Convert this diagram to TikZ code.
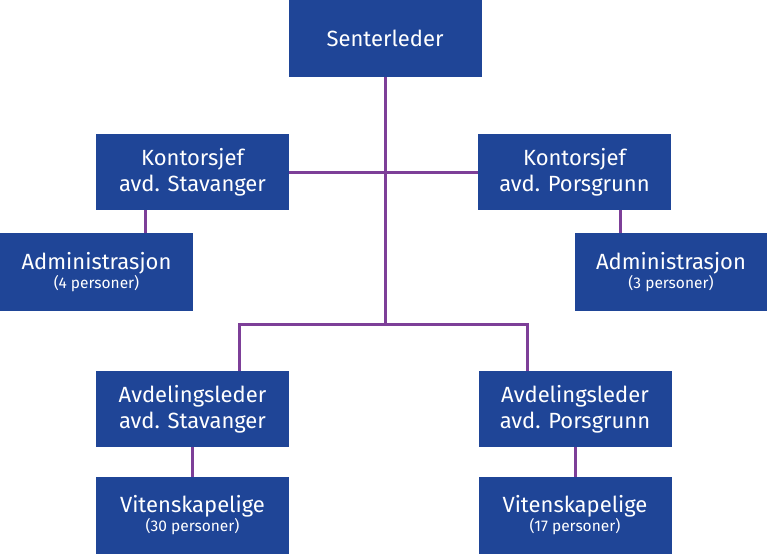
\documentclass[tikz,border=0pt]{standalone}
\usepackage{fontspec}
\setmainfont{Fira Sans}
\usepackage{tikz}

\definecolor{boxblue}{HTML}{1F4597}
\definecolor{linepurple}{HTML}{7D3F98}
\newcommand{\persfont}{\fontsize{15.5}{17}\selectfont}

\begin{document}
\begin{tikzpicture}[x=1pt,y=-1pt,
  box/.style={fill=boxblue, text=white, align=center, minimum width=193pt, minimum height=77pt,
    inner sep=0pt, outer sep=0pt, font=\fontsize{22}{26}\selectfont},
  link/.style={draw=linepurple, line width=3pt}]
\useasboundingbox (0,0) rectangle (767,554);

\node[box] (sl) at (385,38.5) {Senterleder};
\node[box, minimum height=76pt] (ks) at (192.5,172) {Kontorsjef\\avd. Stavanger};
\node[box, minimum height=76pt] (kp) at (574.5,172) {Kontorsjef\\avd. Porsgrunn};
\node[box, minimum height=78pt] (as) at (96.5,272) {Administrasjon\\[-7pt]{\persfont (4 personer)}};
\node[box, minimum height=78pt] (ap) at (671,272) {Administrasjon\\[-7pt]{\persfont (3 personer)}};
\node[box, minimum height=76pt] (als) at (192.5,409) {Avdelingsleder\\avd. Stavanger};
\node[box, minimum height=76pt] (alp) at (575,409) {Avdelingsleder\\avd. Porsgrunn};
\node[box] (vs) at (192.5,515.5) {Vitenskapelige\\[-7pt]{\persfont (30 personer)}};
\node[box] (vp) at (575,515.5) {Vitenskapelige\\[-7pt]{\persfont (17 personer)}};

\coordinate (j) at (385,324);
\coordinate (jl) at (239,324);
\coordinate (jr) at (527,324);
\coordinate (ksl) at (145,210);
\coordinate (kpl) at (620,210);

\draw[link] (sl.south) -- (j);
\draw[link] (ks.east) -- (kp.west);
\draw[link] (jl |- als.north) -- (jl) -- (jr) -- (jr |- alp.north);
\draw[link] (ksl) -- (ksl |- as.north);
\draw[link] (kpl) -- (kpl |- ap.north);
\draw[link] (als.south) -- (vs.north);
\draw[link] (alp.south) -- (vp.north);
\end{tikzpicture}
\end{document}
